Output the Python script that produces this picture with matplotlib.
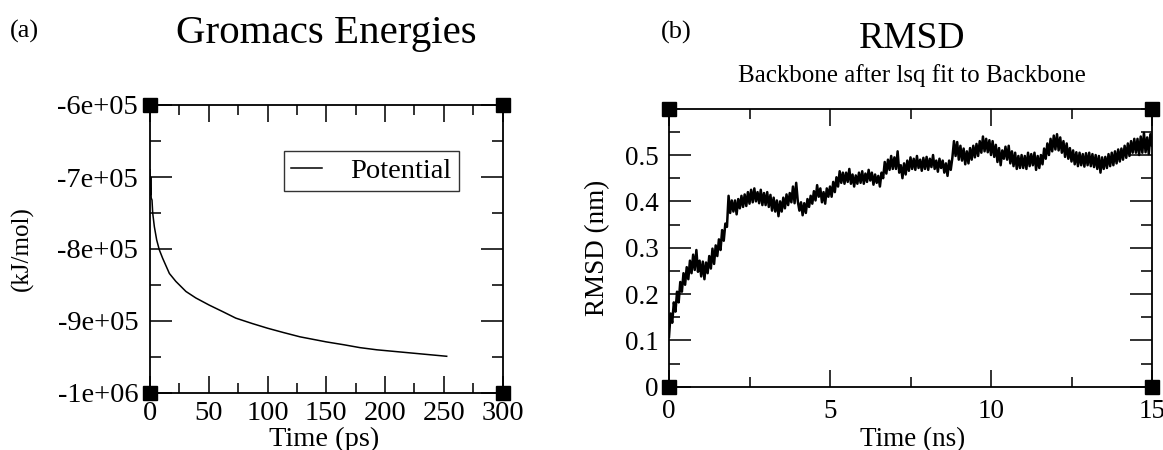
import numpy as np
import matplotlib
matplotlib.use("Agg")
import matplotlib.pyplot as plt
from matplotlib.ticker import MultipleLocator, FixedLocator, FixedFormatter

plt.rcParams['font.family'] = ['Liberation Serif', 'DejaVu Serif']

# ---------------- data ----------------
energy_time = [0, 0.3, 0.6, 1.0, 1.7, 2.3, 3.7, 5.7, 7.9, 10.8, 16.5, 22, 30.6, 39,
               50.5, 61.9, 73, 87, 100, 113.5, 127.7, 150, 165, 178.7, 193,
               212.8, 232.6, 252.5]
energy = [-6.90e5, -7.25e5, -7.00e5, -7.29e5, -7.32e5, -7.50e5, -7.69e5, -7.875e5,
          -8.01e5, -8.13e5, -8.34e5, -8.45e5, -8.59e5, -8.68e5, -8.78e5, -8.87e5,
          -8.96e5, -9.035e5, -9.10e5, -9.16e5, -9.22e5, -9.29e5, -9.33e5, -9.37e5,
          -9.40e5, -9.43e5, -9.46e5, -9.49e5]
energy_yticks = [-1e6, -9e5, -8e5, -7e5, -6e5]
energy_ylabels = ['-1e+06', '-9e+05', '-8e+05', '-7e+05', '-6e+05']
energy_xticks = [0, 50, 100, 150, 200, 250, 300]

rmsd = [
 0.108, 0.158, 0.138, 0.182, 0.162, 0.205, 0.182, 0.226, 0.205, 0.245,
 0.220, 0.258, 0.232, 0.272, 0.245, 0.285, 0.252, 0.295, 0.248, 0.272,
 0.238, 0.270, 0.232, 0.268, 0.245, 0.282, 0.255, 0.298, 0.265, 0.305,
 0.282, 0.318, 0.295, 0.338, 0.315, 0.352, 0.345, 0.412, 0.375, 0.402,
 0.378, 0.402, 0.372, 0.405, 0.385, 0.412, 0.388, 0.415, 0.390, 0.420,
 0.395, 0.425, 0.398, 0.428, 0.400, 0.420, 0.396, 0.425, 0.392, 0.418,
 0.392, 0.420, 0.388, 0.414, 0.380, 0.408, 0.378, 0.402, 0.368, 0.400,
 0.378, 0.408, 0.385, 0.415, 0.392, 0.418, 0.398, 0.432, 0.396, 0.440,
 0.400, 0.380, 0.398, 0.370, 0.396, 0.375, 0.405, 0.388, 0.412, 0.395,
 0.422, 0.402, 0.435, 0.410, 0.428, 0.398, 0.420, 0.395, 0.428, 0.410,
 0.432, 0.410, 0.442, 0.420, 0.452, 0.432, 0.465, 0.440, 0.462, 0.438,
 0.462, 0.442, 0.470, 0.438, 0.458, 0.432, 0.456, 0.438, 0.462, 0.440,
 0.465, 0.438, 0.460, 0.442, 0.468, 0.445, 0.462, 0.436, 0.458, 0.440,
 0.455, 0.432, 0.462, 0.450, 0.485, 0.460, 0.490, 0.468, 0.498, 0.470,
 0.495, 0.470, 0.508, 0.462, 0.478, 0.450, 0.482, 0.458, 0.488, 0.466,
 0.495, 0.470, 0.492, 0.468, 0.498, 0.472, 0.490, 0.466, 0.494, 0.470,
 0.496, 0.468, 0.492, 0.474, 0.500, 0.470, 0.488, 0.464, 0.492, 0.472,
 0.488, 0.462, 0.482, 0.455, 0.488, 0.468, 0.494, 0.530, 0.498, 0.528,
 0.490, 0.520, 0.488, 0.514, 0.480, 0.508, 0.482, 0.515, 0.490, 0.520,
 0.495, 0.524, 0.498, 0.530, 0.505, 0.540, 0.508, 0.535, 0.506, 0.532,
 0.500, 0.530, 0.496, 0.522, 0.485, 0.515, 0.478, 0.510, 0.492, 0.518,
 0.490, 0.520, 0.482, 0.508, 0.476, 0.505, 0.470, 0.498, 0.472, 0.500,
 0.472, 0.498, 0.470, 0.505, 0.476, 0.502, 0.478, 0.505, 0.468, 0.498,
 0.472, 0.500, 0.480, 0.514, 0.492, 0.525, 0.500, 0.535, 0.508, 0.542,
 0.512, 0.545, 0.510, 0.538, 0.505, 0.530, 0.496, 0.525, 0.492, 0.515,
 0.486, 0.510, 0.480, 0.506, 0.476, 0.505, 0.478, 0.502, 0.475, 0.504,
 0.478, 0.505, 0.476, 0.502, 0.474, 0.500, 0.470, 0.498, 0.462, 0.495,
 0.470, 0.496, 0.472, 0.502, 0.476, 0.505, 0.478, 0.508, 0.482, 0.512,
 0.486, 0.514, 0.490, 0.520, 0.494, 0.525, 0.498, 0.530, 0.505, 0.535,
 0.505, 0.535, 0.500, 0.540, 0.505, 0.548, 0.506, 0.538, 0.502, 0.545,
 0.520]
rmsd_time = np.linspace(0, 15, len(rmsd))
rmsd_yticks = [0, 0.1, 0.2, 0.3, 0.4, 0.5]
rmsd_ylabels = ['0', '0.1', '0.2', '0.3', '0.4', '0.5']
rmsd_xticks = [0, 5, 10, 15]

# ---------------- figure ----------------
W, H = 1163, 450
fig = plt.figure(figsize=(W / 100, H / 100), dpi=100)


def px_axes(l, t, r, b):
    return fig.add_axes([l / W, 1 - b / H, (r - l) / W, (b - t) / H])


def style(ax, fs, padx, pady):
    for s in ax.spines.values():
        s.set_linewidth(1.3)
    ax.tick_params(which='both', direction='in', top=True, right=True,
                   width=1.3, color='#222222')
    ax.tick_params(axis='x', which='major', length=12.5)
    ax.tick_params(axis='x', which='minor', length=7)
    ax.tick_params(axis='y', which='major', length=15.5)
    ax.tick_params(axis='y', which='minor', length=8)
    ax.tick_params(axis='x', labelsize=fs, pad=padx)
    ax.tick_params(axis='y', labelsize=fs, pad=pady)
    for cx, cy in [(0, 0), (0, 1), (1, 0), (1, 1)]:
        ax.plot([cx], [cy], marker='s', ms=9.5, color='black',
                transform=ax.transAxes, clip_on=False, zorder=5)


def fig_xy(x, y):
    return x / W, 1 - y / H


# Panel (a)
ax1 = px_axes(150, 105, 502.5, 393)
ax1.plot(energy_time, energy, color='black', lw=1.1, label='Potential')
ax1.set_xlim(0, 300)
ax1.set_ylim(-1e6, -6e5)
ax1.xaxis.set_major_locator(FixedLocator(energy_xticks))
ax1.xaxis.set_minor_locator(MultipleLocator(25))
ax1.yaxis.set_major_locator(FixedLocator(energy_yticks))
ax1.yaxis.set_major_formatter(FixedFormatter(energy_ylabels))
ax1.yaxis.set_minor_locator(MultipleLocator(5e4))
style(ax1, 20.5, 6, 8.5)
ax1.set_xlabel('Time (ps)', fontsize=20.5, va='baseline')
ax1.xaxis.set_label_coords(*fig_xy(324, 446), transform=fig.transFigure)
ax1.set_ylabel('(kJ/mol)', fontsize=18, va='center')
ax1.yaxis.set_label_coords(*fig_xy(22.5, 249), transform=fig.transFigure)
leg = ax1.legend(loc='upper right', bbox_to_anchor=(0.876, 0.84), fontsize=20.5,
                 frameon=True, fancybox=False, handlelength=1.1,
                 handletextpad=1.0, borderpad=0.25, borderaxespad=0)
leg.get_frame().set_edgecolor('black')
leg.get_frame().set_linewidth(1.0)
fig.text(*fig_xy(10, 31), '(a)', fontsize=19, va='center', ha='left')
fig.text(*fig_xy(326, 43), 'Gromacs Energies', fontsize=29.5,
         ha='center', va='baseline')

# Panel (b)
ax2 = px_axes(669, 108.7, 1152, 386.7)
ax2.plot(rmsd_time, rmsd, color='black', lw=1.8)
ax2.set_xlim(0, 15)
ax2.set_ylim(0, 0.6)
ax2.xaxis.set_major_locator(FixedLocator(rmsd_xticks))
ax2.xaxis.set_minor_locator(MultipleLocator(2.5))
ax2.yaxis.set_major_locator(FixedLocator(rmsd_yticks))
ax2.yaxis.set_major_formatter(FixedFormatter(rmsd_ylabels))
ax2.yaxis.set_minor_locator(MultipleLocator(0.05))
style(ax2, 19.5, 9, 7.5)
ax2.set_xlabel('Time (ns)', fontsize=19.5, va='baseline')
ax2.xaxis.set_label_coords(*fig_xy(913, 446), transform=fig.transFigure)
ax2.set_ylabel('RMSD (nm)', fontsize=19.5, va='center')
ax2.yaxis.set_label_coords(*fig_xy(598, 248), transform=fig.transFigure)
fig.text(*fig_xy(661, 32), '(b)', fontsize=19, va='center', ha='left')
fig.text(*fig_xy(912, 48), 'RMSD', fontsize=27, ha='center', va='baseline')
fig.text(*fig_xy(912, 82), 'Backbone after lsq fit to Backbone',
         fontsize=18, ha='center', va='baseline')

fig.savefig('out.png', dpi=100)
